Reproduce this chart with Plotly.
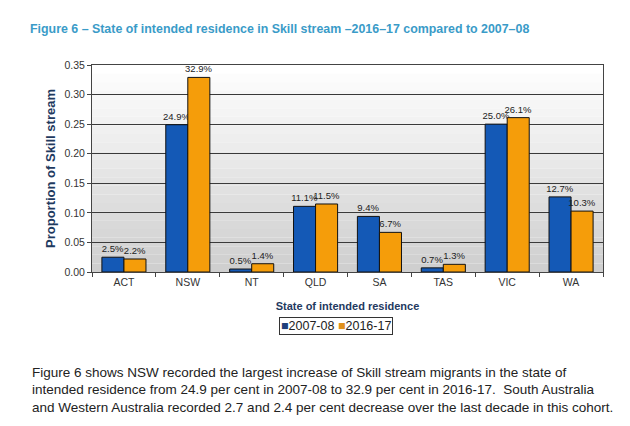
import plotly.graph_objects as go

states = ["ACT", "NSW", "NT", "QLD", "SA", "TAS", "VIC", "WA"]
series_names = ["2007-08", "2016-17"]
values_0708 = [0.025, 0.249, 0.005, 0.111, 0.094, 0.007, 0.250, 0.127]
values_1617 = [0.022, 0.329, 0.014, 0.115, 0.067, 0.013, 0.261, 0.103]
y_ticks = [0.00, 0.05, 0.10, 0.15, 0.20, 0.25, 0.30, 0.35]
colors = ["#1459b6", "#f59d0a"]

title_text = "Figure 6 – State of intended residence in Skill stream –2016–17 compared to 2007–08"
paragraph_lines = [
    "Figure 6 shows NSW recorded the largest increase of Skill stream migrants in the state of",
    "intended residence from 24.9 per cent in 2007-08 to 32.9 per cent in 2016-17.  South Australia",
    "and Western Australia recorded 2.7 and 2.4 per cent decrease over the last decade in this cohort.",
]

font_family = "Liberation Sans, Arial, sans-serif"

# page offset (browser body margin) compensation
OFF = 8
W, H = 630 - OFF, 426 - OFF
PL, PR, PT, PB = 92 - OFF, 603 - OFF, 65 - OFF, 272 - OFF  # plot area in figure px
pw, ph = PR - PL, PB - PT

def px_x(x):
    return (x - OFF - PL) / pw

def px_y(y):
    return (PB - (y - OFF)) / ph

fig = go.Figure()
for name, vals, col in zip(series_names, [values_0708, values_1617], colors):
    fig.add_trace(go.Bar(
        x=states, y=vals, name=name,
        marker=dict(color=col, line=dict(color="#111111", width=1)),
        texttemplate="%{y:.1%}", textposition="outside", constraintext="none",
        textfont=dict(size=9.5, color="#222222", family=font_family),
        cliponaxis=False, showlegend=False,
    ))

# gradient-like plot background
shapes = []
n = 24
for i in range(n):
    t = i / (n - 1)
    c = int(255 - 48 * t)
    shapes.append(dict(type="rect", xref="x domain", yref="y domain",
                       x0=0, x1=1, y0=1 - (i + 1) / n, y1=1 - i / n,
                       fillcolor=f"rgb({c},{c},{c})", line=dict(width=0),
                       layer="below"))

annotations = []
for i, line in enumerate(paragraph_lines):
    annotations.append(dict(text=line, xref="paper", yref="paper",
                            x=px_x(30), xanchor="left", y=px_y(372 + i * 17.5), yanchor="middle",
                            align="left", showarrow=False,
                            font=dict(size=13.5, color="#222", family=font_family)))

legend_text = (f"<span style='color:#1f3f7a'>■</span>{series_names[0]} "
               f"<span style='color:#e0901a'>■</span>{series_names[1]}")
annotations.append(dict(text=legend_text, xref="paper", yref="paper",
                        x=px_x(336), xanchor="center", y=px_y(326), yanchor="middle",
                        showarrow=False, bordercolor="#333", borderwidth=1, borderpad=1,
                        bgcolor="white", font=dict(size=12.5, color="#222", family=font_family)))

fig.update_layout(
    width=W, height=H,
    margin=dict(l=PL, r=W - PR, t=PT, b=H - PB),
    paper_bgcolor="white",
    plot_bgcolor="rgba(0,0,0,0)",
    shapes=shapes,
    barmode="group", bargap=0.31, bargroupgap=0.0,
    font=dict(family=font_family, color="#222222"),
    title=dict(text="<b>" + title_text + "</b>", x=(30 - OFF) / W, xanchor="left",
               y=1 - (29 - OFF) / H, yanchor="middle",
               font=dict(size=12.4, color="#3a9bc8", family=font_family)),
    xaxis=dict(
        showgrid=False, ticks="outside", tickson="boundaries", ticklen=4,
        tickcolor="#444", showline=True, linecolor="#444", mirror=True,
        tickfont=dict(size=10.5, color="#333"),
        title=dict(text="<b>State of intended residence</b>", standoff=15,
                   font=dict(size=11, color="#1f3a5f")),
    ),
    yaxis=dict(
        range=[0, 0.35], tickvals=y_ticks, tickformat=".2f",
        showgrid=True, gridcolor="#3a3a3a", gridwidth=1,
        ticks="outside", ticklen=4, tickcolor="#444",
        showline=True, linecolor="#444", mirror=True, zeroline=False,
        tickfont=dict(size=10.5, color="#333"),
        title=dict(text="<b>Proportion of Skill stream</b>", standoff=5,
                   font=dict(size=13, color="#1f3a5f")),
    ),
    annotations=annotations,
)

fig.write_html("out.html")
